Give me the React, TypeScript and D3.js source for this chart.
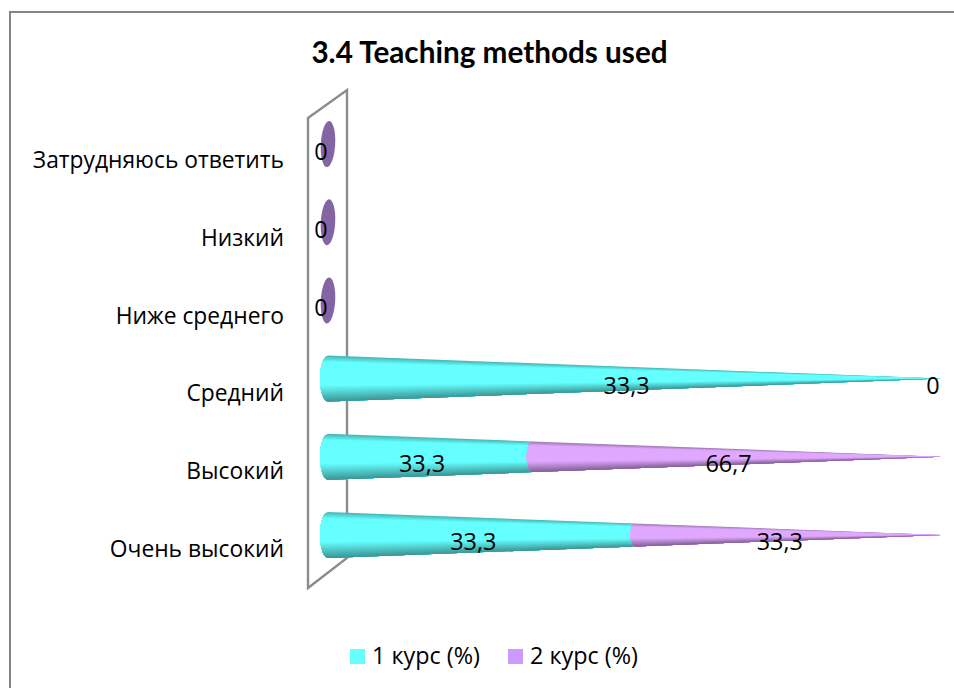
import React from 'react';
import * as d3 from 'd3';

// chart values
const categories = ['Очень высокий', 'Высокий', 'Средний', 'Ниже среднего', 'Низкий', 'Затрудняюсь ответить'];
const course1 = [33.3, 33.3, 33.3, 0, 0, 0];
const course2 = [33.3, 66.7, 0, 0, 0, 0];
const seriesNames = ['1 курс (%)', '2 курс (%)'];
const decimalComma = (v: number) => String(v).replace('.', ',');

const W = 954;
const H = 688;
const TITLE_FONT = 'Lato, "Open Sans", sans-serif';
const LABEL_FONT = '"Open Sans", sans-serif';

const x = d3.scaleLinear().domain([0, 100]).range([328, 941]);
const y = d3.scaleBand().domain(categories).range([574, 105]);
// axis labels sit on a slightly tighter step than the cones
const labelY = d3.scalePoint().domain(categories).range([557, 168]);

const RADIUS = 23;
const CAP = 8;

// shade across the cone, t goes -1 (top) to 1 (bottom)
const shade = (base: string, t: number) =>
  d3.scaleLinear<string>()
    .domain([-1, -0.72, 0.3, 1])
    .range([d3.rgb(base).darker(1.0).formatHex(), base, base, d3.rgb(base).darker(1.5).formatHex()])
    .clamp(true)(t);

const bands = d3.range(-1, 1, 0.06);

function segmentPath(p0: number, p1: number, cy: number, t0: number) {
  const x0 = x(p0);
  const x1 = x(p1);
  const radius = (px: number) => (RADIUS * (x(100) - px)) / (x(100) - x(0));
  const r0 = radius(x0);
  const r1 = radius(x1);
  const rx = (CAP * r0) / RADIUS;
  const cap = d3.range(t0, 1.001, 0.05).map((t) => [x0 - rx * Math.sqrt(Math.max(0, 1 - t * t)), cy + t * r0]);
  const pts = [...cap, [x0, cy + r0], [x1, cy + r1], [x1, cy + t0 * r1]] as [number, number][];
  return d3.line()(pts) + 'Z';
}

function Cone({ cat, v1, v2 }: { cat: string; v1: number; v2: number }) {
  const cy = y(cat)! + y.bandwidth() / 2;
  const total = v1 + v2;
  if (total === 0) {
    return (
      <g>
        <ellipse cx={x(0)} cy={cy} rx={7.2} ry={23} fill="#8465a4" transform={`rotate(3 ${x(0)} ${cy})`} />
        <text x={x(0) - 7} y={cy + 16} textAnchor="middle" fontSize={23.4} fontFamily={LABEL_FONT} fill="#000">0</text>
      </g>
    );
  }
  const a = (v1 / total) * 100;
  return (
    <g>
      {bands.map((t) => (
        <path key={t} d={segmentPath(0, a, cy, t)} fill={shade('#66ffff', t + 0.03)} />
      ))}
      {v2 > 0 && bands.map((t) => (
        <path key={t} d={segmentPath(a, 100, cy, t)} fill={shade('#e0a8ff', t + 0.03)} />
      ))}
      <text x={x(a / 2) - 8} y={cy + 15} textAnchor="middle" fontSize={23.4} fontFamily={LABEL_FONT} fill="#000">{decimalComma(v1)}</text>
      <text x={v2 > 0 ? x((a + 100) / 2) - 8 : x(100) - 8} y={cy + 15} textAnchor="middle" fontSize={23.4} fontFamily={LABEL_FONT} fill="#000">{decimalComma(v2)}</text>
    </g>
  );
}

export default function App() {
  return (
    <svg width={W} height={H} style={{ position: 'absolute', left: 0, top: 0, display: 'block' }}>
      <rect x={0} y={0} width={W} height={H} fill="#fff" />
      <path d="M10 688V12H954" fill="none" stroke="#858585" strokeWidth={2} />
      <text x={489.5} y={63} textAnchor="middle" fontSize={29.7} fontWeight={700} fontFamily={TITLE_FONT} fill="#000">3.4 Teaching methods used</text>
      <path d="M308 118L347 90V558L308 588Z" fill="none" stroke="#8c8c8c" strokeWidth={2.4} />
      {categories.map((c, i) => (
        <g key={c}>
          <Cone cat={c} v1={course1[i]} v2={course2[i]} />
          <text x={284} y={labelY(c)} textAnchor="end" fontSize={22.8} fontFamily={LABEL_FONT} fill="#000">{c}</text>
        </g>
      ))}
      {seriesNames.map((s, i) => (
        <g key={s}>
          <rect x={350 + i * 158} y={649} width={15} height={15} fill={i === 0 ? '#66ffff' : '#cc99ff'} />
          <text x={372 + i * 158} y={664} fontSize={23.4} fontFamily={LABEL_FONT} fill="#000">{s}</text>
        </g>
      ))}
    </svg>
  );
}
